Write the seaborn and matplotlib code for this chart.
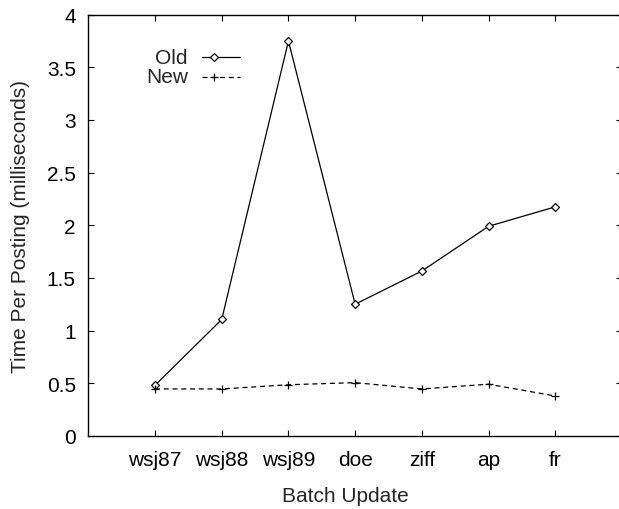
import numpy as np
import pandas as pd
import matplotlib
matplotlib.use("Agg")
import matplotlib.pyplot as plt
from matplotlib.lines import Line2D
import seaborn as sns

categories = ["wsj87", "wsj88", "wsj89", "doe", "ziff", "ap", "fr"]
old_values = [0.48, 1.105, 3.75, 1.25, 1.565, 1.99, 2.175]
new_values = [0.445, 0.445, 0.485, 0.505, 0.445, 0.49, 0.378]
series_names = ["Old", "New"]
y_ticks = [0, 0.5, 1, 1.5, 2, 2.5, 3, 3.5, 4]
y_tick_labels = ["0", "0.5", "1", "1.5", "2", "2.5", "3", "3.5", "4"]

df_old = pd.DataFrame({"batch": categories, "time": old_values})
df_new = pd.DataFrame({"batch": categories, "time": new_values})

sns.set_style("ticks")
plt.rcParams["font.family"] = ["Liberation Sans", "DejaVu Sans"]
FS = 15
plt.rcParams["font.size"] = FS

W, H = 619, 510
fig = plt.figure(figsize=(W / 100, H / 100), dpi=100)
left, right, top, bottom = 88.3, 622.0, 15.7, 436.8
ax = fig.add_axes([left / W, (H - bottom) / H, (right - left) / W, (bottom - top) / H])

sns.lineplot(
    data=df_old, x="batch", y="time", marker="D",
    color="black", linewidth=0.9, markersize=4.5,
    markerfacecolor="white", markeredgecolor="black", markeredgewidth=0.9,
    sort=False, estimator=None, legend=False, ax=ax,
)
sns.lineplot(
    data=df_new, x="batch", y="time", marker="+", linestyle=(0, (4, 3)),
    color="black", linewidth=0.9, markersize=5.5,
    markeredgecolor="black", markeredgewidth=0.9,
    sort=False, estimator=None, legend=False, ax=ax,
)

ax.set_xlim(-1, len(categories))
ax.set_ylim(0, 4)
ax.set_xticks(range(len(categories)))
ax.set_xticklabels(categories)
ax.set_yticks(y_ticks)
ax.set_yticklabels(y_tick_labels)
ax.tick_params(direction="in", length=4, width=0.8, top=True, right=True,
               labelsize=FS, colors="black")
ax.tick_params(axis="x", pad=10)
ax.tick_params(axis="y", pad=9)
for sp in ax.spines.values():
    sp.set_visible(True)
    sp.set_linewidth(1.0)
    sp.set_color("black")

ax.set_xlabel("Batch Update", fontsize=FS)
ax.set_ylabel("Time Per Posting (milliseconds)", fontsize=FS)
aw, ah = right - left, bottom - top
ax.xaxis.set_label_coords((345 - left) / aw, (bottom - 487) / ah)
ax.yaxis.set_label_coords((30 - left) / aw, 0.5)

# key (gnuplot style: right-aligned text, sample to the right)
key_rows = [(series_names[0], "-", "D", 4.5, 58), (series_names[1], (0, (4, 3)), "+", 5.5, 78)]
for label, ls, mk, ms, ypx in key_rows:
    yy = 1 - (ypx - top) / ah
    ax.text((188 - left) / aw, yy, label, ha="right", va="center",
            fontsize=FS, transform=ax.transAxes)
    ax.add_line(Line2D([(202 - left) / aw, (240 - left) / aw], [yy, yy],
                       transform=ax.transAxes, color="black", linewidth=0.9,
                       linestyle=ls))
    ax.add_line(Line2D([(214 - left) / aw], [yy], transform=ax.transAxes,
                       marker=mk, markersize=ms, markerfacecolor="white",
                       markeredgecolor="black", markeredgewidth=0.9,
                       linestyle="none"))

fig.savefig("out.png", dpi=100)
